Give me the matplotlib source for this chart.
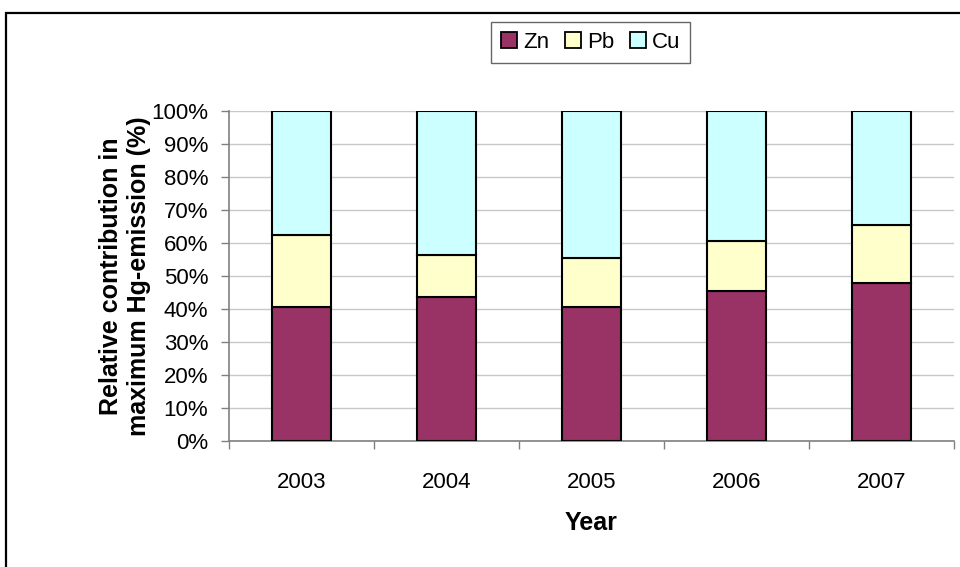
import matplotlib
matplotlib.use("Agg")
import matplotlib.pyplot as plt
from matplotlib.patches import Rectangle, Patch
import numpy as np

years = ["2003", "2004", "2005", "2006", "2007"]
zn = [40.5, 43.5, 40.5, 45.5, 48.0]
pb = [22.0, 13.0, 15.0, 15.0, 17.5]
cu = [100 - a - b for a, b in zip(zn, pb)]
series_names = ["Zn", "Pb", "Cu"]
colors = ["#993366", "#FFFFCC", "#CCFFFF"]
yticks = list(range(0, 101, 10))

plt.rcParams['font.family'] = ['Liberation Sans', 'DejaVu Sans']

W, H = 960, 567
fig = plt.figure(figsize=(W / 100, H / 100), dpi=100)

# outer chart frame (extends past right and bottom edges)
fig.patches.append(Rectangle((6 / W, -0.5), 1.2, 1 - 13 / H + 0.5,
                             transform=fig.transFigure, fill=False,
                             edgecolor="black", linewidth=1.6))

left, right, top, bottom = 229, 954, 111, 441
ax = fig.add_axes([left / W, 1 - bottom / H, (right - left) / W, (bottom - top) / H])

x = np.arange(len(years))
bw = 0.41
bottoms = np.zeros(len(years))
for vals, name, c in zip([zn, pb, cu], series_names, colors):
    ax.bar(x, vals, bw, bottom=bottoms, color=c, edgecolor="black", linewidth=1.5,
           label=name, zorder=3)
    bottoms += np.array(vals)

ax.set_xlim(-0.5, len(years) - 0.5)
ax.set_ylim(0, 100)
ax.set_yticks(yticks)
ax.set_yticklabels([f"{t}%" for t in yticks])
ax.yaxis.grid(True, color="#C8C8C8", linewidth=1.0, zorder=0)
ax.set_axisbelow(True)

ax.set_xticks(x)
ax.set_xticklabels(years)
ax.set_xticks(np.arange(-0.5, len(years) + 0.5, 1), minor=True)
ax.tick_params(axis="x", which="major", length=0, pad=22, labelsize=16)
ax.tick_params(axis="x", which="minor", length=6, width=1, color="#808080", direction="out")
ax.tick_params(axis="y", length=6, width=1, color="#808080", direction="out", labelsize=16, pad=9)

for s in ["top", "right"]:
    ax.spines[s].set_visible(False)
for s in ["left", "bottom"]:
    ax.spines[s].set_color("#808080")
    ax.spines[s].set_linewidth(1.2)

ax.set_xlabel("Year", fontsize=18, fontweight="bold", labelpad=13)
ax.set_ylabel("Relative contribution in\nmaximum Hg-emission (%)", fontsize=18,
              fontweight="bold", linespacing=1.2)
ax.yaxis.set_label_coords((151 - left) / (right - left), 0.5)

handles = [Patch(facecolor=c, edgecolor="black", linewidth=1.3) for c in colors]
leg = fig.legend(handles, series_names, loc="upper center",
                 bbox_to_anchor=(590.5 / W, 1 - 22 / H), ncol=3, fontsize=16,
                 frameon=True, fancybox=False, shadow=False,
                 handlelength=0.75, handleheight=0.75, handletextpad=0.25,
                 columnspacing=0.7, borderpad=0.45, borderaxespad=0)
leg.get_frame().set_edgecolor("#404040")
leg.get_frame().set_linewidth(1.0)

fig.savefig("out.png", dpi=100)
